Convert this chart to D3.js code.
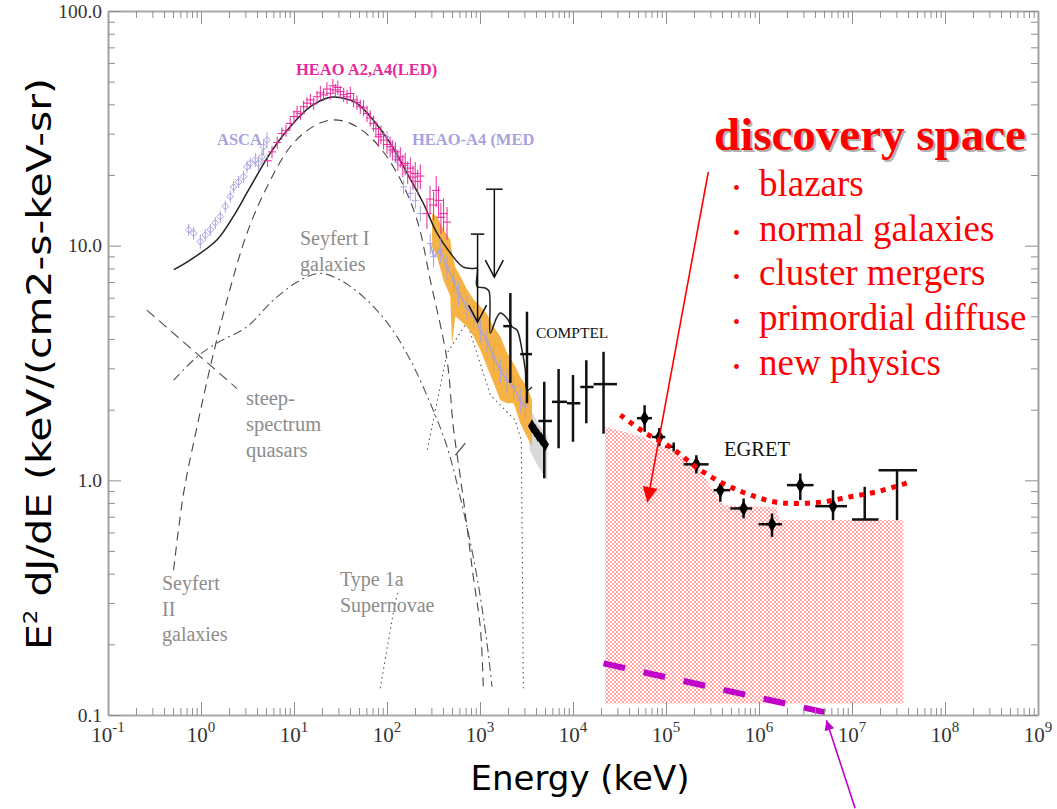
<!DOCTYPE html>
<html>
<head>
<meta charset="utf-8">
<script src="https://cdn.jsdelivr.net/npm/d3@7/dist/d3.min.js"></script>
<style>
  body { margin: 0; background: #fff; }
  svg { display: block; }
</style>
</head>
<body>
<svg id="cxb" width="1057" height="809"></svg>
<script>
// energies in keV, fluxes as E^2 dJ/dE in keV/(cm2-s-keV-sr)
const xTicks = [1e-1, 1e0, 1e1, 1e2, 1e3, 1e4, 1e5, 1e6, 1e7, 1e8, 1e9]
const xExponents = ['-1', '0', '1', '2', '3', '4', '5', '6', '7', '8', '9']
const yTicks = [0.1, 1, 10, 100]

// total model
const totalE = [0.51, 0.77, 1.49, 2.22, 3.39, 5.56, 9.1, 15, 24.5, 33.9, 47.6, 71, 108, 164, 245, 345, 480, 662, 848, 929, 929, 1140, 1250, 1290, 1500, 1650, 1950, 2210, 2500, 2830, 3070, 3200, 3620]
const totalF = [7.9, 8.7, 10.6, 13.3, 17.8, 24.8, 32.1, 39.1, 42.9, 42.5, 40.4, 34.3, 27.4, 20.4, 15.2, 11.3, 9.3, 8.1, 8.0, 8.0, 6.7, 6.6, 6.4, 4.24, 4.9, 5.16, 4.91, 4.51, 4.37, 3.59, 2.95, 2.42, 2.50]

// components
const sy2E = [0.507, 0.650, 0.906, 1.259, 1.904, 3.124, 5.125, 9.125, 14.97, 24.6, 40.3, 71.2, 128, 210, 292, 442, 516, 614, 725, 847, 1007, 1085]
const sy2F = [0.414, 0.882, 1.69, 3.05, 5.86, 11.3, 17.8, 26.4, 31.6, 34.3, 33.2, 28.2, 20.4, 12.9, 7.13, 3.26, 1.69, 1.035, 0.634, 0.388, 0.237, 0.132]
const sy1E = [0.507, 0.906, 1.486, 3.124, 5.99, 11.7, 19.2, 31.5, 60.9, 108.5, 178, 292, 442, 661, 928, 1190, 1346]
const sy1F = [2.67, 3.36, 3.85, 4.51, 5.86, 7.13, 7.62, 7.13, 5.86, 4.51, 3.26, 2.13, 1.39, 0.746, 0.388, 0.202, 0.132]
const quasarE = [0.262, 2.44]
const quasarF = [5.31, 2.46]
const snE = [84.7, 117, 132]
const snF = [0.130, 0.272, 0.34]
const lineE = [271, 442, 725, 1291, 2396, 2781, 2850, 2922]
const lineF = [1.35, 3.48, 4.72, 2.31, 1.80, 1.48, 0.504, 0.130]
const slashE = [543, 695]
const slashF = [1.28, 1.44]

// ASCA
const ascaE = [0.736, 0.833, 0.983, 1.112, 1.259, 1.425, 1.613, 1.825, 2.066, 2.241, 2.537, 2.872, 3.124, 3.389, 3.836, 4.163, 4.528, 4.71, 5.125]
const ascaF = [11.7, 11.3, 10.4, 11.1, 11.7, 12.5, 13.3, 14.7, 16.2, 17.8, 18.7, 19.7, 21.7, 22.4, 23.2, 22.4, 23.9, 26.4, 28.2]
const ascaErr = [0.06, 0.06, 0.07, 0.06, 0.06, 0.06, 0.06, 0.06, 0.06, 0.06, 0.06, 0.06, 0.06, 0.06, 0.07, 0.07, 0.07, 0.08, 0.08]

// HEAO A2, A4 (LED)
const ledE = [5.2, 5.8, 6.6, 7.4, 8.2, 9.1, 10.0, 10.8, 11.8, 12.7, 13.8, 15.0, 16.3, 17.7, 19.2, 20.8, 22.6, 24.6, 26.2, 27.8, 29.6, 31.5, 34.2, 37.2, 40.3, 43.7, 47.5, 51.6, 56.0, 61.0, 66.0, 71.8, 76.0, 81.3, 86.0, 91.9, 100, 108, 115, 123, 131, 139, 148, 157, 167, 178, 190, 201, 214, 228, 269, 290, 317, 338, 359, 380, 406, 442]
const ledF = [23.0, 25.1, 27.5, 30.1, 31.0, 33.2, 35.5, 37.2, 36.5, 39.1, 40.5, 41.8, 40.2, 43.1, 44.8, 43.9, 46.5, 44.6, 48.0, 46.1, 47.2, 45.3, 44.0, 43.1, 44.5, 41.8, 40.8, 39.1, 38.6, 36.6, 35.0, 33.2, 31.5, 29.1, 29.8, 28.2, 27.0, 26.4, 25.6, 25.1, 23.2, 23.9, 22.0, 22.4, 20.6, 21.4, 19.6, 20.3, 18.8, 19.8, 13.7, 15.8, 14.9, 17.2, 15.6, 13.2, 13.7, 12.6]
const ledErr = [0.06, 0.06, 0.06, 0.06, 0.06, 0.06, 0.06, 0.06, 0.06, 0.06, 0.06, 0.06, 0.06, 0.06, 0.07, 0.06, 0.07, 0.06, 0.07, 0.06, 0.07, 0.06, 0.07, 0.07, 0.07, 0.07, 0.07, 0.07, 0.08, 0.08, 0.08, 0.08, 0.08, 0.09, 0.09, 0.09, 0.09, 0.10, 0.10, 0.10, 0.10, 0.10, 0.11, 0.11, 0.11, 0.11, 0.12, 0.12, 0.12, 0.12, 0.14, 0.14, 0.14, 0.15, 0.15, 0.15, 0.16, 0.16]
const ledBinDex = 0.045

// HEAO-A4 (MED)
const medE = [100, 113, 128, 151, 178, 202, 228, 292, 317, 374, 442, 520, 589, 725, 854, 1007, 1190, 1400, 1653, 1952, 2297, 2713, 3069]
const medF = [29.1, 26.4, 23.9, 17.8, 16.7, 15.6, 13.7, 10.2, 8.97, 9.57, 8.13, 7.13, 6.26, 5.49, 4.98, 4.37, 3.96, 3.36, 2.95, 2.67, 2.50, 2.20, 2.06]
const medErr = [0.06, 0.06, 0.07, 0.07, 0.07, 0.08, 0.08, 0.10, 0.10, 0.12, 0.12, 0.12, 0.12, 0.12, 0.12, 0.12, 0.12, 0.12, 0.12, 0.12, 0.12, 0.12, 0.12]
const medBinDex = 0.035

// uncertainty band (orange) and grey band
const bandE = [305, 345, 406, 479, 500, 543, 614, 725, 854, 1007, 1190, 1400, 1653, 1952, 2297, 2713, 3202, 3624]
const bandHi = [13.7, 13.3, 11.7, 10.6, 9.3, 8.1, 7.4, 6.5, 5.9, 5.5, 5.1, 4.5, 4.1, 3.5, 3.15, 2.76, 2.5, 2.2]
const bandLo = [9.9, 9.0, 7.1, 6.1, 3.8, 5.0, 4.8, 4.5, 4.1, 3.6, 3.05, 2.6, 2.2, 2.13, 2.13, 1.75, 1.53, 1.39]
const greyE = [3400, 4200, 5300]
const greyHi = [2.05, 1.75, 1.55]
const greyLo = [1.35, 1.15, 1.0]

// upper limits
const ulE = [942, 1426]
const ulF = [11.2, 17.4]
const ulBinDex = [0.072, 0.09]

// COMPTEL
const comptelE = [2120, 3200, 4910, 7000, 10000, 13900, 21300]
const comptelF = [4.54, 3.45, 1.79, 2.16, 2.13, 2.50, 2.57]
const comptelHi = [6.28, 5.23, 2.63, 2.98, 2.81, 3.25, 3.53]
const comptelLo = [2.60, 2.13, 1.02, 1.37, 1.46, 1.75, 1.58]
const comptelElo = [1780, 2710, 4240, 5940, 8620, 11980, 16660]
const comptelEhi = [2200, 3620, 5940, 8620, 11980, 16660, 29700]
const dotE = [3620, 3900, 4200, 4550, 5000]
const dotF = [1.70, 1.63, 1.56, 1.50, 1.42]

// EGRET
const egretE = [58900, 84700, 121000, 212000, 384000, 683000, 1.38e6, 2.78e6, 6.25e6, 1.37e7, 3.05e7]
const egretF = [1.84, 1.53, 1.39, 1.17, 0.908, 0.759, 0.650, 0.954, 0.776, 0.681, 1.105]
const egretHi = [2.09, 1.67, 1.45, 1.28, 0.97, 0.837, 0.722, 1.07, 0.908, 0.938, 1.105]
const egretLo = [1.61, 1.40, 1.33, 1.07, 0.81, 0.689, 0.574, 0.824, 0.677, 0.681, 0.677]
const egretElo = [48700, 70600, 98100, 154600, 325000, 491000, 991000, 2.0e6, 4.03e6, 1.0e7, 1.93e7]
const egretEhi = [70600, 98100, 125000, 287000, 491000, 841000, 1.77e6, 3.86e6, 8.83e6, 1.93e7, 5.0e7]
const egretMarked = [true, true, false, true, true, true, true, true, true, false, false]

// discovery space
const discE = [22200, 53000, 120000, 217000, 323000, 413000, 1.53e6, 1.67e6, 3.56e7]
const discF = [1.69, 1.54, 1.33, 1.14, 0.908, 0.784, 0.769, 0.677, 0.677]
const discFloor = 0.112
const redE = [32300, 57400, 116000, 234000, 534000, 1.44e6, 2.56e6, 4.96e6, 9.6e6, 1.86e7, 4.24e7]
const redF = [1.90, 1.61, 1.37, 1.105, 0.924, 0.810, 0.797, 0.810, 0.851, 0.894, 0.985]
const sensE = [21300, 5.85e6]
const sensF = [0.166, 0.1015]

const bullets = ['blazars', 'normal galaxies', 'cluster mergers', 'primordial diffuse', 'new physics']

// ---- layout ----
const margin = { top: 11, right: 19, bottom: 94, left: 108 }
const width = 1057 - margin.left - margin.right
const height = 809 - margin.top - margin.bottom
const serif = 'Liberation Serif, Times New Roman, serif'
const grey = '#8c8c8c'
const lavender = '#a9a2de'
const magenta = '#e6289b'

const svg = d3.select('#cxb')
const defs = svg.append('defs')

const pat = defs.append('pattern').attr('id', 'dots')
  .attr('width', 4).attr('height', 4).attr('patternUnits', 'userSpaceOnUse')
pat.append('circle').attr('cx', 1).attr('cy', 1).attr('r', 0.8).attr('fill', '#ff3030')
pat.append('circle').attr('cx', 3).attr('cy', 3).attr('r', 0.8).attr('fill', '#ff3030')

function head(id, color, w, h) {
  defs.append('marker').attr('id', id)
    .attr('viewBox', '0 0 10 10').attr('refX', 10).attr('refY', 5)
    .attr('markerWidth', w).attr('markerHeight', h)
    .attr('markerUnits', 'userSpaceOnUse').attr('orient', 'auto')
    .append('path').attr('d', 'M0,0L10,5L0,10z').attr('fill', color)
}
head('redHead', '#ff0000', 17, 15)
head('magHead', '#c000c8', 12, 10)

const chart = svg.append('g').attr('transform', `translate(${margin.left},${margin.top})`)

const x = d3.scaleLog().domain([1e-1, 1e9]).range([0, width])
const y = d3.scaleLog().domain([0.1, 100]).range([height, 0])

const zip = (es, fs) => es.map((e, i) => ({ e, f: fs[i] }))
const line = d3.line().x(d => x(d.e)).y(d => y(d.f))
const smooth = d3.line().x(d => x(d.e)).y(d => y(d.f)).curve(d3.curveCatmullRom.alpha(0.5))

// discovery space region
chart.append('path')
  .datum(zip(discE, discF))
  .attr('d', d3.area().x(d => x(d.e)).y0(y(discFloor)).y1(d => y(d.f)))
  .attr('fill', 'url(#dots)')

// model components
function curve(es, fs, dash, color, gen) {
  chart.append('path').datum(zip(es, fs))
    .attr('d', gen || smooth)
    .attr('fill', 'none').attr('stroke', color).attr('stroke-width', 1.1)
    .attr('stroke-dasharray', dash)
}
curve(sy2E, sy2F, '9,6', '#444')
curve(sy1E, sy1F, '9,4,2,4', '#555')
curve(quasarE, quasarF, '10,6', '#555', line)
curve(snE, snF, '1.5,3.5', '#555')
curve(lineE, lineF, '1.5,3.5', '#555', line)
curve(slashE, slashF, null, '#444', line)

// bands
const band = d3.area().x(d => x(d.e)).y0(d => y(d.lo)).y1(d => y(d.hi))
chart.append('path')
  .datum(greyE.map((e, i) => ({ e, hi: greyHi[i], lo: greyLo[i] })))
  .attr('d', band).attr('fill', '#d9d9d9')
chart.append('path')
  .datum(bandE.map((e, i) => ({ e, hi: bandHi[i], lo: bandLo[i] })))
  .attr('d', band).attr('fill', '#f6b243')

// total model
chart.append('path').datum(zip(totalE, totalF))
  .attr('d', smooth)
  .attr('fill', 'none').attr('stroke', '#222').attr('stroke-width', 1.5)

// error-bar helper
function errorBars(pts, color, sw) {
  const g = chart.append('g').attr('stroke', color).attr('stroke-width', sw).attr('fill', 'none')
  g.selectAll('.v').data(pts).join('line').attr('class', 'v')
    .attr('x1', d => x(d.e)).attr('x2', d => x(d.e))
    .attr('y1', d => y(d.hi)).attr('y2', d => y(d.lo))
  g.selectAll('.h').data(pts.filter(d => d.elo)).join('line').attr('class', 'h')
    .attr('x1', d => x(d.elo)).attr('x2', d => x(d.ehi))
    .attr('y1', d => y(d.f)).attr('y2', d => y(d.f))
  return g
}

// ASCA
const asca = ascaE.map((e, i) => ({ e, f: ascaF[i], hi: ascaF[i] * (1 + ascaErr[i]), lo: ascaF[i] * (1 - ascaErr[i]) }))
errorBars(asca, lavender, 1)
chart.append('g').selectAll('path').data(asca).join('path')
  .attr('d', d3.symbol(d3.symbolDiamond2, 30))
  .attr('transform', d => `translate(${x(d.e)},${y(d.f)})`)
  .attr('fill', 'none').attr('stroke', lavender).attr('stroke-width', 1)

// MED
const med = medE.map((e, i) => ({
  e, f: medF[i], hi: medF[i] * (1 + medErr[i]), lo: medF[i] * (1 - medErr[i]),
  elo: e / Math.pow(10, medBinDex), ehi: e * Math.pow(10, medBinDex)
}))
errorBars(med, lavender, 1)
chart.append('path').datum(med.filter(d => d.e >= 290))
  .attr('d', line).attr('fill', 'none').attr('stroke', lavender).attr('stroke-width', 1.5)

// LED
const led = ledE.map((e, i) => ({
  e, f: ledF[i], hi: ledF[i] * (1 + ledErr[i]), lo: ledF[i] * (1 - ledErr[i]),
  elo: e / Math.pow(10, ledBinDex), ehi: e * Math.pow(10, ledBinDex)
}))
errorBars(led, magenta, 1)

// upper limits
const ul = ulE.map((e, i) => ({ e, f: ulF[i], w: ulBinDex[i] }))
const ulg = chart.append('g').attr('stroke', '#111').attr('stroke-width', 1.5).attr('fill', 'none')
ulg.selectAll('.cap').data(ul).join('line').attr('class', 'cap')
  .attr('x1', d => x(d.e / Math.pow(10, d.w))).attr('x2', d => x(d.e * Math.pow(10, d.w)))
  .attr('y1', d => y(d.f)).attr('y2', d => y(d.f))
ulg.selectAll('.stem').data(ul).join('line').attr('class', 'stem')
  .attr('x1', d => x(d.e)).attr('x2', d => x(d.e))
  .attr('y1', d => y(d.f)).attr('y2', d => y(d.f) + 88)
ulg.selectAll('.tip').data(ul).join('path').attr('class', 'tip')
  .attr('d', d => {
    const cx = x(d.e), ty = y(d.f) + 88
    return `M${cx - 9},${ty - 17}L${cx},${ty}L${cx + 9},${ty - 17}`
  })

// COMPTEL
const comptel = comptelE.map((e, i) => ({ e, f: comptelF[i], hi: comptelHi[i], lo: comptelLo[i], elo: comptelElo[i], ehi: comptelEhi[i] }))
errorBars(comptel, '#111', 2.5)
chart.append('g').selectAll('path').data(zip(dotE, dotF)).join('path')
  .attr('d', d3.symbol(d3.symbolDiamond, 55))
  .attr('transform', d => `translate(${x(d.e)},${y(d.f)})`)
  .attr('fill', '#000')

// EGRET
const egret = egretE.map((e, i) => ({ e, f: egretF[i], hi: egretHi[i], lo: egretLo[i], elo: egretElo[i], ehi: egretEhi[i], mark: egretMarked[i] }))
errorBars(egret, '#111', 2.5)
chart.append('g').selectAll('path').data(egret.filter(d => d.mark)).join('path')
  .attr('d', d3.symbol(d3.symbolDiamond, 70))
  .attr('transform', d => `translate(${x(d.e)},${y(d.f)})`)
  .attr('fill', '#000')

// discovery curve and sensitivity line
chart.append('path').datum(zip(redE, redF))
  .attr('d', smooth).attr('fill', 'none')
  .attr('stroke', '#ff0000').attr('stroke-width', 5).attr('stroke-dasharray', '5,6')
chart.append('path').datum(zip(sensE, sensF))
  .attr('d', line).attr('fill', 'none')
  .attr('stroke', '#c000c8').attr('stroke-width', 6).attr('stroke-dasharray', '22,19')

// ---- axes ----
const minorOf = ticks => ticks.slice(0, -1).flatMap(t => d3.range(2, 10).map(k => t * k))
const xMinor = minorOf(xTicks)
const yMinor = minorOf(yTicks)

chart.append('g').attr('class', 'axis').attr('transform', `translate(0,${height})`)
  .call(d3.axisBottom(x).tickValues(xTicks).tickSize(-13).tickSizeOuter(0).tickFormat(''))
chart.append('g').attr('class', 'axis').attr('transform', `translate(0,${height})`)
  .call(d3.axisBottom(x).tickValues(xMinor).tickSize(-7).tickSizeOuter(0).tickFormat(''))
chart.append('g').attr('class', 'axis')
  .call(d3.axisTop(x).tickValues(xTicks).tickSize(-13).tickSizeOuter(0).tickFormat(''))
chart.append('g').attr('class', 'axis')
  .call(d3.axisTop(x).tickValues(xMinor).tickSize(-7).tickSizeOuter(0).tickFormat(''))
chart.append('g').attr('class', 'axis')
  .call(d3.axisLeft(y).tickValues(yTicks).tickSize(-13).tickSizeOuter(0).tickPadding(6).tickFormat(d3.format('.1f')))
  .attr('font-family', serif).attr('font-size', 19.5)
chart.append('g').attr('class', 'axis')
  .call(d3.axisLeft(y).tickValues(yMinor).tickSize(-7).tickSizeOuter(0).tickFormat(''))
chart.append('g').attr('class', 'axis').attr('transform', `translate(${width},0)`)
  .call(d3.axisRight(y).tickValues(yTicks).tickSize(-13).tickSizeOuter(0).tickFormat(''))
chart.append('g').attr('class', 'axis').attr('transform', `translate(${width},0)`)
  .call(d3.axisRight(y).tickValues(yMinor).tickSize(-7).tickSizeOuter(0).tickFormat(''))

chart.selectAll('.axis path.domain').attr('stroke', '#a3a3a3').attr('stroke-width', 1.6)
chart.selectAll('.axis .tick line').attr('stroke', '#8f8f8f').attr('stroke-width', 1)
chart.selectAll('.axis .tick text').attr('fill', '#333')

// decade labels with superscripts
const xl = chart.append('g').attr('font-family', serif).attr('fill', '#333')
  .selectAll('text').data(xTicks).join('text')
  .attr('x', d => x(d)).attr('y', height + 27)
  .attr('text-anchor', 'middle').attr('font-size', 21)
xl.append('tspan').text('10')
xl.append('tspan').attr('font-size', 15).attr('dy', -10).text((d, i) => xExponents[i])

// axis titles
svg.append('text')
  .attr('x', 580).attr('y', 790).attr('text-anchor', 'middle')
  .attr('font-family', 'DejaVu Sans, sans-serif').attr('font-size', 34).attr('fill', '#000')
  .text('Energy (keV)')

const yt = svg.append('text')
  .attr('transform', 'translate(51,364) rotate(-90)').attr('text-anchor', 'middle')
  .attr('font-family', 'DejaVu Sans, sans-serif').attr('font-size', 34).attr('fill', '#000')
  .attr('textLength', 572).attr('lengthAdjust', 'spacingAndGlyphs')
yt.append('tspan').text('E')
yt.append('tspan').attr('font-size', 19).attr('dy', -14).text('2')
yt.append('tspan').attr('dy', 14).text(' dJ/dE (keV/(cm2-s-keV-sr)')

// ---- annotations ----
function label(lines, x0, y0, step, size, color, weight) {
  const t = svg.append('text').attr('font-family', serif).attr('font-size', size)
    .attr('fill', color).attr('font-weight', weight || 'normal')
  lines.forEach((s, i) => t.append('tspan').attr('x', x0).attr('y', y0 + i * step).text(s))
}
label(['HEAO A2,A4(LED)'], 296, 75, 0, 16.5, magenta, 'bold')
label(['ASCA'], 217, 145, 0, 16.5, lavender, 'bold')
label(['HEAO-A4 (MED'], 412, 145, 0, 16.5, lavender, 'bold')
label(['Seyfert I', 'galaxies'], 300, 245, 26, 20, grey)
label(['steep-', 'spectrum', 'quasars'], 246, 405, 26, 20.5, grey)
label(['Seyfert', 'II', 'galaxies'], 162, 590, 25.5, 20, grey)
label(['Type 1a', 'Supernovae'], 340, 586, 26, 20, grey)
label(['COMPTEL'], 536, 338, 0, 15.5, '#111')
label(['EGRET'], 724, 456, 0, 20.5, '#111')

label(['discovery space'], 716, 152, 0, 47, '#b0b0b0', 'bold')
label(['discovery space'], 714, 150, 0, 47, '#ff0000', 'bold')
label(bullets, 759, 196, 44.7, 37, '#ff0000')
label(bullets.map(() => '•'), 733, 195, 44.7, 20, '#ff0000')

// arrows
chart.append('line')
  .attr('x1', x(2.85e5)).attr('y1', y(20.6)).attr('x2', x(6.3e4)).attr('y2', y(0.807))
  .attr('stroke', '#ff0000').attr('stroke-width', 1.6).attr('marker-end', 'url(#redHead)')
chart.append('line')
  .attr('x1', x(1.08e7)).attr('y1', y(0.0401)).attr('x2', x(5.3e6)).attr('y2', y(0.095))
  .attr('stroke', '#c000c8').attr('stroke-width', 1.6).attr('marker-end', 'url(#magHead)')
</script>
</body>
</html>
